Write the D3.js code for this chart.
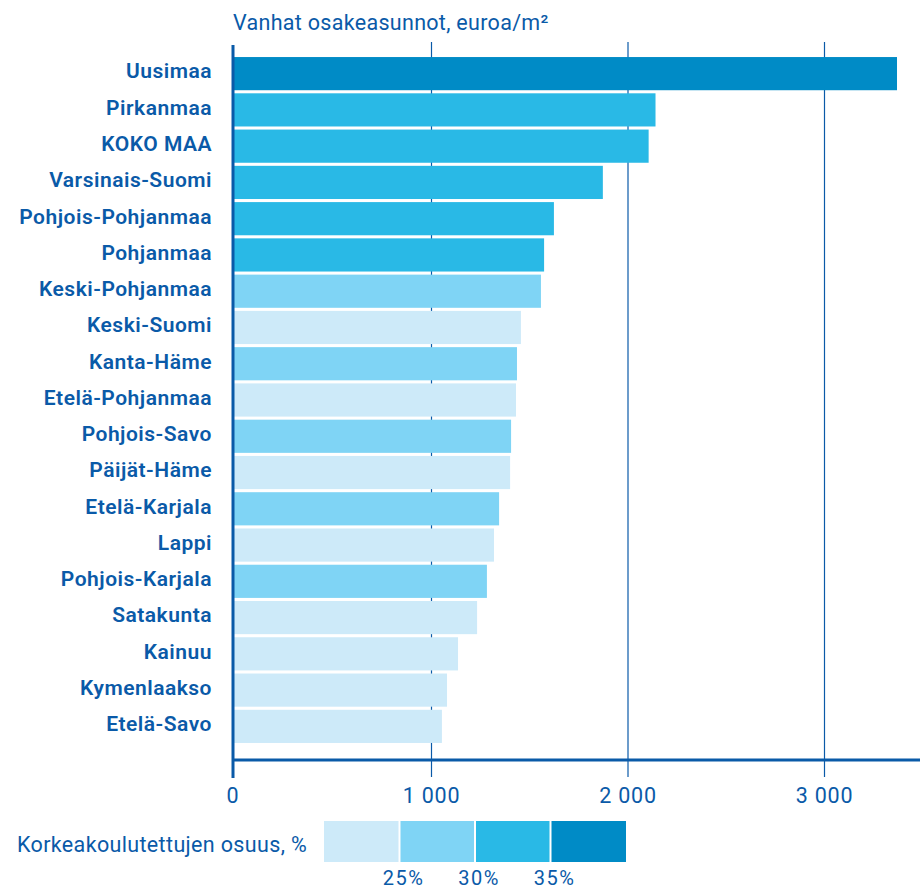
<!DOCTYPE html>
<html><head><meta charset="utf-8">
<script src="https://cdn.jsdelivr.net/npm/d3@7"></script>
<style>
body{margin:0;background:#fff;}
text{font-family:Roboto, "Noto Sans", sans-serif;}
</style></head>
<body><svg id="c" width="920" height="890"></svg>
<script>
const regions = ["Uusimaa","Pirkanmaa","KOKO MAA","Varsinais-Suomi","Pohjois-Pohjanmaa","Pohjanmaa","Keski-Pohjanmaa","Keski-Suomi","Kanta-Häme","Etelä-Pohjanmaa","Pohjois-Savo","Päijät-Häme","Etelä-Karjala","Lappi","Pohjois-Karjala","Satakunta","Kainuu","Kymenlaakso","Etelä-Savo"];
const prices = [3369,2140,2105,1872,1623,1573,1557,1455,1435,1430,1405,1400,1344,1318,1282,1232,1135,1079,1053];
const eduClass = [3,2,2,2,2,2,1,0,1,0,1,0,1,0,1,0,0,0,0];
const classColors = ["#cdeaf9","#7fd4f5","#29b9e6","#008bc6"];
const legendTicks = ["25%","30%","35%"];
const xTicks = [0,1000,2000,3000];
const title = "Vanhat osakeasunnot, euroa/m²";
const legendTitle = "Korkeakoulutettujen osuus, %";

const dark = "#0a5aa8";
const svg = d3.select("#c");
const x = d3.scaleLinear().domain([0,1000]).range([235,431.5]);
const y = d3.scaleBand().domain(regions).range([55.5,744.5]).paddingInner(0.085).paddingOuter(0.0425);

// title
svg.append("text").attr("x",233).attr("y",30).attr("fill",dark).attr("font-size",21.5).attr("letter-spacing",0.3).text(title);

// gridlines
svg.selectAll(".grid").data(xTicks.slice(1)).join("line")
  .attr("x1",d=>x(d)).attr("x2",d=>x(d)).attr("y1",42).attr("y2",777)
  .attr("stroke",dark).attr("stroke-width",1.2);

// bars
svg.selectAll(".bar").data(regions).join("rect")
  .attr("x",x(0)-1).attr("y",d=>y(d)).attr("height",y.bandwidth())
  .attr("width",(d,i)=>x(prices[i])-x(0)+1)
  .attr("fill",(d,i)=>classColors[eduClass[i]]);

// left axis line
svg.append("line").attr("x1",233).attr("x2",233).attr("y1",45).attr("y2",778).attr("stroke",dark).attr("stroke-width",3);
// bottom axis
svg.append("line").attr("x1",232).attr("x2",920).attr("y1",760).attr("y2",760).attr("stroke",dark).attr("stroke-width",3);

// x tick labels
svg.selectAll(".xt").data(xTicks).join("text")
  .attr("x",d=>d===0?233:x(d)).attr("y",803).attr("text-anchor","middle")
  .attr("fill",dark).attr("font-size",21.5).attr("letter-spacing",0.8)
  .text(d=>d3.format(",")(d).replace(","," "));

// category labels
svg.selectAll(".lbl").data(regions).join("text")
  .attr("x",212).attr("y",d=>y(d)+y.bandwidth()/2).attr("dy","0.23em")
  .attr("text-anchor","end").attr("fill",dark).attr("font-size",21).attr("font-weight",600).attr("letter-spacing",0.5)
  .text(d=>d);

// legend
const lx = d3.scaleLinear().domain([0,4]).range([324,626]);
svg.append("text").attr("x",17).attr("y",852).attr("fill",dark).attr("font-size",21.5).attr("letter-spacing",0.35).text(legendTitle);
svg.selectAll(".lg").data(classColors).join("rect")
  .attr("x",(d,i)=>lx(i)+(i?1:0)).attr("y",821).attr("height",41)
  .attr("width",(d,i)=>lx(i+1)-lx(i)-(i?1:0)-(i<3?1:0)).attr("fill",d=>d);
svg.selectAll(".lt").data(legendTicks).join("text")
  .attr("x",(d,i)=>lx(i+1)+4).attr("y",885).attr("text-anchor","middle")
  .attr("fill",dark).attr("font-size",20).attr("letter-spacing",1.5).text(d=>d);
</script></body></html>
